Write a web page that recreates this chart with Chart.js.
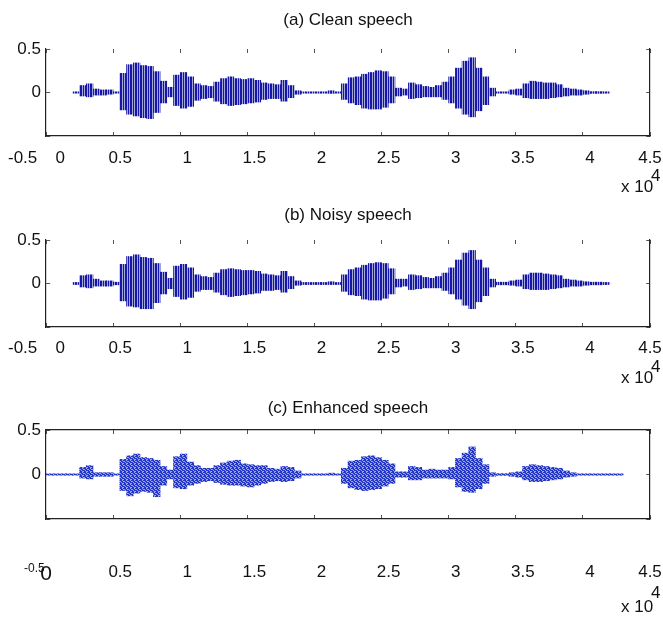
<!DOCTYPE html>
<html lang="en">
<head>
<meta charset="UTF-8">
<title>Clean, noisy and enhanced speech</title>
<script src="https://cdn.jsdelivr.net/npm/chart.js"></script>
<style>
  body { margin: 0; background: #fff; }
  #wrap { position: relative; width: 663px; height: 620px; font-family: "Liberation Sans", Arial, sans-serif; color: #111; }
  #wrap canvas { position: absolute; left: 0; top: 0; }
  .lbl { position: absolute; font-size: 17px; line-height: 20px; white-space: nowrap; }
</style>
</head>
<body>
<div id="wrap">
  <canvas id="chartA" width="663" height="620"></canvas>
  <canvas id="chartB" width="663" height="620"></canvas>
  <canvas id="chartC" width="663" height="620"></canvas>

  <div class="lbl" style="left:8px;top:148px">-0.5</div>
  <div class="lbl" style="left:621px;top:177px">x 10</div>
  <div class="lbl" style="left:651px;top:166px">4</div>

  <div class="lbl" style="left:8px;top:338px">-0.5</div>
  <div class="lbl" style="left:621px;top:368px">x 10</div>
  <div class="lbl" style="left:651px;top:357px">4</div>

  <div class="lbl" style="left:24px;top:558px;font-size:12px">-0.5</div>
  <div class="lbl" style="left:621px;top:597px">x 10</div>
  <div class="lbl" style="left:651px;top:583px">4</div>
</div>

<script>
const FONT = '"Liberation Sans", Arial, sans-serif';

// sample position (x 10^4), one bin every 0.05
const sampleX = [
  0.025, 0.075, 0.125, 0.175, 0.225, 0.275, 0.325, 0.375, 0.425, 0.475,
  0.525, 0.575, 0.625, 0.675, 0.725, 0.775, 0.825, 0.875, 0.925, 0.975,
  1.025, 1.075, 1.125, 1.175, 1.225, 1.275, 1.325, 1.375, 1.425, 1.475,
  1.525, 1.575, 1.625, 1.675, 1.725, 1.775, 1.825, 1.875, 1.925, 1.975,
  2.025, 2.075, 2.125, 2.175, 2.225, 2.275, 2.325, 2.375, 2.425, 2.475,
  2.525, 2.575, 2.625, 2.675, 2.725, 2.775, 2.825, 2.875, 2.925, 2.975,
  3.025, 3.075, 3.125, 3.175, 3.225, 3.275, 3.325, 3.375, 3.425, 3.475,
  3.525, 3.575, 3.625, 3.675, 3.725, 3.775, 3.825, 3.875, 3.925, 3.975,
  4.025, 4.075, 4.125, 4.175, 4.225, 4.275, 4.325, 4.375, 4.425, 4.475
];

// (a) clean speech, upper / lower envelope per bin
const cleanHi = [
  null, null, null, null, 0.008, 0.08, 0.10, 0.04, 0.03, 0.03,
  0.008, 0.22, 0.32, 0.34, 0.31, 0.30, 0.24, 0.13, 0.06, 0.20,
  0.23, 0.18, 0.10, 0.08, 0.07, 0.12, 0.16, 0.18, 0.16, 0.15,
  0.16, 0.14, 0.11, 0.10, 0.09, 0.14, 0.08, 0.02, 0.008, 0.008,
  0.008, 0.008, 0.02, 0.008, 0.10, 0.17, 0.18, 0.21, 0.23, 0.25,
  0.24, 0.18, 0.05, 0.04, 0.11, 0.09, 0.07, 0.06, 0.08, 0.12,
  0.18, 0.28, 0.36, 0.40, 0.28, 0.18, 0.05, 0.008, 0.008, 0.03,
  0.04, 0.10, 0.13, 0.12, 0.11, 0.11, 0.09, 0.05, 0.04, 0.03,
  0.02, 0.01, 0.01, 0.008, null, null, null, null, null, null
];
const cleanLo = [
  null, null, null, null, -0.008, -0.04, -0.05, -0.03, -0.03, -0.02,
  -0.008, -0.20, -0.25, -0.27, -0.29, -0.30, -0.23, -0.12, -0.05, -0.15,
  -0.18, -0.16, -0.09, -0.07, -0.06, -0.10, -0.13, -0.15, -0.14, -0.13,
  -0.12, -0.11, -0.08, -0.07, -0.07, -0.10, -0.06, -0.02, -0.008, -0.008,
  -0.008, -0.008, -0.01, -0.008, -0.08, -0.12, -0.14, -0.18, -0.19, -0.19,
  -0.17, -0.12, -0.04, -0.03, -0.07, -0.06, -0.05, -0.05, -0.05, -0.08,
  -0.12, -0.18, -0.25, -0.28, -0.21, -0.14, -0.04, -0.008, -0.008, -0.02,
  -0.03, -0.06, -0.07, -0.07, -0.07, -0.06, -0.05, -0.04, -0.03, -0.03,
  -0.02, -0.01, -0.01, -0.008, null, null, null, null, null, null
];

// (b) noisy speech
const noisyHi = [
  null, null, null, null, 0.012, 0.09, 0.10, 0.05, 0.03, 0.03,
  0.015, 0.22, 0.31, 0.33, 0.30, 0.29, 0.23, 0.13, 0.06, 0.20,
  0.22, 0.18, 0.10, 0.08, 0.07, 0.12, 0.16, 0.17, 0.16, 0.15,
  0.15, 0.14, 0.11, 0.10, 0.09, 0.14, 0.08, 0.03, 0.012, 0.012,
  0.012, 0.012, 0.02, 0.012, 0.10, 0.16, 0.18, 0.21, 0.23, 0.24,
  0.23, 0.17, 0.05, 0.05, 0.10, 0.09, 0.07, 0.06, 0.08, 0.12,
  0.18, 0.27, 0.35, 0.38, 0.27, 0.18, 0.05, 0.015, 0.015, 0.03,
  0.04, 0.10, 0.12, 0.12, 0.11, 0.10, 0.09, 0.05, 0.04, 0.03,
  0.02, 0.015, 0.015, 0.012, null, null, null, null, null, null
];
const noisyLo = [
  null, null, null, null, -0.012, -0.04, -0.05, -0.03, -0.03, -0.03,
  -0.015, -0.20, -0.26, -0.27, -0.29, -0.29, -0.22, -0.12, -0.06, -0.15,
  -0.18, -0.16, -0.09, -0.07, -0.07, -0.10, -0.13, -0.15, -0.14, -0.13,
  -0.12, -0.11, -0.08, -0.08, -0.07, -0.10, -0.06, -0.02, -0.012, -0.012,
  -0.012, -0.012, -0.012, -0.012, -0.09, -0.13, -0.14, -0.18, -0.19, -0.19,
  -0.17, -0.12, -0.04, -0.03, -0.07, -0.06, -0.05, -0.05, -0.05, -0.08,
  -0.12, -0.18, -0.25, -0.29, -0.21, -0.14, -0.04, -0.015, -0.015, -0.02,
  -0.03, -0.06, -0.07, -0.07, -0.07, -0.06, -0.05, -0.04, -0.03, -0.03,
  -0.02, -0.015, -0.015, -0.012, null, null, null, null, null, null
];

// (c) enhanced speech
const enhHi = [
  0.008, 0.008, 0.008, 0.008, 0.008, 0.08, 0.10, 0.02, 0.02, 0.02,
  0.008, 0.17, 0.21, 0.23, 0.19, 0.18, 0.16, 0.09, 0.05, 0.20,
  0.23, 0.14, 0.10, 0.07, 0.07, 0.10, 0.13, 0.15, 0.16, 0.12,
  0.11, 0.10, 0.10, 0.07, 0.06, 0.09, 0.08, 0.04, 0.008, 0.008,
  0.008, 0.008, 0.015, 0.008, 0.07, 0.15, 0.16, 0.20, 0.21, 0.19,
  0.16, 0.12, 0.03, 0.03, 0.09, 0.08, 0.05, 0.06, 0.05, 0.05,
  0.08, 0.18, 0.24, 0.31, 0.18, 0.11, 0.02, 0.01, 0.01, 0.02,
  0.03, 0.09, 0.11, 0.10, 0.09, 0.08, 0.07, 0.04, 0.02, 0.008,
  0.008, 0.008, 0.008, 0.008, 0.008, 0.008, null, null, null, null
];
const enhLo = [
  -0.008, -0.008, -0.008, -0.008, -0.008, -0.04, -0.05, -0.02, -0.02, -0.02,
  -0.008, -0.18, -0.24, -0.21, -0.19, -0.20, -0.25, -0.12, -0.05, -0.15,
  -0.16, -0.12, -0.10, -0.08, -0.07, -0.09, -0.11, -0.12, -0.12, -0.13,
  -0.14, -0.12, -0.10, -0.08, -0.07, -0.08, -0.07, -0.04, -0.008, -0.008,
  -0.008, -0.008, -0.008, -0.008, -0.10, -0.15, -0.17, -0.18, -0.17, -0.16,
  -0.13, -0.10, -0.03, -0.03, -0.06, -0.06, -0.04, -0.04, -0.04, -0.04,
  -0.05, -0.14, -0.19, -0.20, -0.16, -0.10, -0.02, -0.01, -0.01, -0.02,
  -0.03, -0.06, -0.08, -0.08, -0.07, -0.06, -0.05, -0.03, -0.02, -0.008,
  -0.008, -0.008, -0.008, -0.008, -0.008, -0.008, null, null, null, null
];

function toBars(hi, lo) {
  const pts = [];
  sampleX.forEach((x, i) => {
    if (hi[i] !== null) pts.push({ x: x, y: [lo[i], hi[i]] });
  });
  return pts;
}

// fill textures: vertical pitch stripes for (a)/(b), speckle for (c)
function makePattern(rows, colors) {
  const c = document.createElement('canvas');
  c.width = rows[0].length; c.height = rows.length;
  const g = c.getContext('2d');
  rows.forEach((row, y) => {
    for (let x = 0; x < row.length; x++) {
      g.fillStyle = colors[row[x]];
      g.fillRect(x, y, 1, 1);
    }
  });
  return g.createPattern(c, 'repeat');
}
const stripeFill = makePattern(['DDLDL'], { D: '#1616a8', L: '#a3a7da' });
const speckFill = makePattern(['DDLD', 'LDDL', 'DLDD', 'DDLL'], { D: '#2436c8', L: '#9aa5e6' });

// short inward ticks at both ends of each grid line
function tickDash(horizontal) {
  return ctx => {
    const a = ctx.chart.chartArea;
    if (!a) return [];
    const len = horizontal ? a.bottom - a.top : a.right - a.left;
    return [4, len - 8, 4, 4000];
  };
}

function xLabel(v, bigZero) {
  if (v === 0) return bigZero ? '0' : '      0';
  if (v === 4.5) return '4.5';
  return '   ' + v;
}

function makePanel(id, p) {
  const scales = {
    x: {
      type: 'linear', position: 'bottom', min: 0, max: 4.5, offset: false,
      afterFit: s => { s.height = p.axisH; },
      ticks: {
        stepSize: 0.5, autoSkip: false, maxRotation: 0, padding: 0, color: '#111',
        font: ctx => ({ family: FONT, size: (p.bigZero && ctx.index === 0) ? 21 : 17 }),
        callback: v => xLabel(v, p.bigZero)
      },
      // invisible tick marks only push the labels down
      grid: { offset: false, drawTicks: true, tickLength: p.labelPad, tickColor: 'rgba(0,0,0,0)', color: '#555', lineWidth: 1 },
      border: { display: true, color: '#222', width: 1.2, dash: tickDash(true) }
    },
    y: {
      type: 'linear', position: 'left', min: -0.5, max: 0.5,
      afterFit: s => { s.width = 46; },
      ticks: {
        stepSize: 0.5, padding: 5, color: '#111', font: { family: FONT, size: 17 },
        callback: v => v === -0.5 ? '' : String(v)
      },
      grid: { drawTicks: false, color: '#555', lineWidth: 1 },
      border: { display: true, color: '#222', width: 1.2, dash: tickDash(false) }
    },
    yr: {
      type: 'linear', position: 'right', min: -0.5, max: 0.5,
      afterFit: s => { s.width = 13; },
      ticks: { display: false },
      grid: { display: false },
      border: { display: true, color: '#222', width: 1.2 }
    }
  };
  if (p.boxTop) {
    scales.xt = {
      type: 'linear', position: 'top', min: 0, max: 4.5,
      afterFit: s => { s.height = 0; },
      ticks: { display: false },
      grid: { display: false },
      border: { display: true, color: '#222', width: 1.2 }
    };
  }

  return new Chart(document.getElementById(id), {
    type: 'bar',
    data: {
      datasets: [{
        data: toBars(p.hi, p.lo),
        backgroundColor: p.fill,
        borderWidth: 0,
        barPercentage: 1,
        categoryPercentage: 1
      }]
    },
    options: {
      responsive: false,
      animation: false,
      events: [],
      layout: { padding: { top: p.padTop, bottom: p.padBottom, left: 0, right: 0 } },
      plugins: {
        legend: { display: false },
        tooltip: { enabled: false },
        title: {
          display: true, text: p.title, fullSize: false, color: '#111',
          font: { family: FONT, size: 17, weight: 'normal' },
          padding: { top: 10, bottom: p.titleGap }
        }
      },
      scales: scales
    }
  });
}

makePanel('chartA', {
  title: '(a) Clean speech', hi: cleanHi, lo: cleanLo, fill: stripeFill,
  padTop: 0, titleGap: 18.6, padBottom: 444, axisH: 40, labelPad: 12
});
makePanel('chartB', {
  title: '(b) Noisy speech', hi: noisyHi, lo: noisyLo, fill: stripeFill,
  padTop: 195, titleGap: 14.6, padBottom: 253, axisH: 40, labelPad: 11
});
makePanel('chartC', {
  title: '(c) Enhanced speech', hi: enhHi, lo: enhLo, fill: speckFill, boxTop: true, bigZero: true,
  padTop: 388, titleGap: 11.6, padBottom: 31, axisH: 70, labelPad: 43
});
</script>
</body>
</html>
